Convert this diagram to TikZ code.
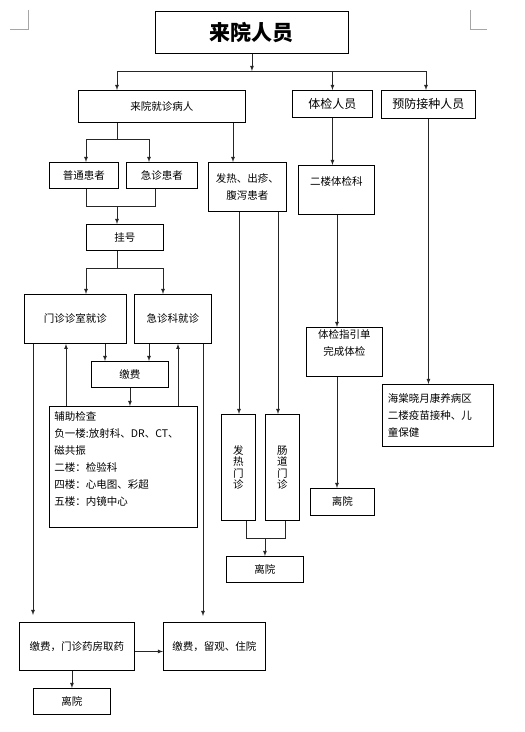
\documentclass[tikz,border=0pt]{standalone}
\usepackage{fontspec}
\newfontfamily\cn{Noto Sans CJK SC}
\usetikzlibrary{arrows}

\begin{document}
\begin{tikzpicture}[x=1pt, y=-1pt,
  box/.style={draw, line width=0.9pt, anchor=north west, inner sep=1pt, align=center,
    font=\cn\fontsize{10.5}{17}\selectfont},
  upright/.style={box, font=\cn\fontsize{10.5}{11.5}\selectfont},
  big/.style={box, font=\cn\fontsize{12}{17}\selectfont},
  link/.style={line width=0.75pt, black!85},
  flow/.style={link, -latex}]
  \useasboundingbox (0,0) rectangle (525,732);
  \draw[black!35, line width=0.6pt] (28,10) -- (28,29) -- (10,29);
  \draw[black!35, line width=0.6pt] (470,10) -- (470,29) -- (487,29);

  % boxes
  \node[box, minimum width=193pt, minimum height=42pt, font=\cn\fontsize{21}{25}\selectfont\bfseries]
    (title) at (155,11) {来院人员};
  \node[box, minimum width=167pt, minimum height=32pt] (visit) at (78,90) {来院就诊病人};
  \node[big, minimum width=80pt, minimum height=27pt] (exam) at (292,90) {体检人员};
  \node[big, minimum width=94pt, minimum height=28pt] (vacc) at (381,90) {预防接种人员};
  \node[box, minimum width=69pt, minimum height=26pt] (normal) at (49,162) {普通患者};
  \node[box, minimum width=71pt, minimum height=26pt] (emerg) at (126,162) {急诊患者};
  \node[box, minimum width=78pt, minimum height=49pt] (fever) at (208,162) {发热、出疹、\\腹泻患者};
  \node[box, minimum width=76pt, minimum height=49pt] (floor2) at (298,165) {二楼体检科\\ \mbox{}};
  \node[box, minimum width=77pt, minimum height=26pt] (reg) at (86,224) {挂号};
  \node[box, minimum width=102pt, minimum height=49pt] (clinic) at (24,294) {门诊诊室就诊};
  \node[box, minimum width=77pt, minimum height=49pt] (er) at (134,294) {急诊科就诊};
  \node[box, minimum width=77pt, minimum height=26pt] (pay) at (91,361) {缴费};
  \node[box, minimum width=148pt, minimum height=121pt, align=left, text width=138pt]
    (aux) at (49,406) {辅助检查\\负一楼:放射科、DR、CT、\\磁共振\\二楼：检验科\\四楼：心电图、彩超\\五楼：内镜中心\\ \mbox{}};
  \node[box, minimum width=76pt, minimum height=49pt] (guide) at (306,327) {体检指引单\\完成体检\\[2pt]};
  \node[box, minimum width=111pt, minimum height=62pt, align=left, text width=100pt]
    (ward) at (382,384) {海棠晓月康养病区\\二楼疫苗接种、儿\\童保健};
  \node[upright, minimum width=34pt, minimum height=106pt] (feverc) at (221,414) {发\\热\\门\\诊};
  \node[upright, minimum width=34pt, minimum height=106pt] (gut) at (265,414) {肠\\道\\门\\诊};
  \node[box, minimum width=64pt, minimum height=27pt] (leave2) at (310,488) {离院};
  \node[box, minimum width=77pt, minimum height=26pt] (leave1) at (226,556) {离院};
  \node[box, minimum width=115pt, minimum height=48pt] (drug) at (19,622) {缴费，门诊药房取药};
  \node[box, minimum width=102pt, minimum height=48pt] (stay) at (163,622) {缴费，留观、住院};
  \node[box, minimum width=77pt, minimum height=26pt] (leave3) at (33,688) {离院};

  % junctions
  \coordinate (b1) at (117,71);  \coordinate (b2) at (426,71);
  \coordinate (c1) at (86,139);  \coordinate (c2) at (149,139); \coordinate (c3) at (233,0);
  \coordinate (d1) at (86,206);  \coordinate (d2) at (155,206);
  \coordinate (e1) at (86,268);  \coordinate (e2) at (163,268);
  \coordinate (f1) at (105,0);   \coordinate (g1) at (66,0);    \coordinate (g2) at (178,0);
  \coordinate (h1) at (33,0);    \coordinate (h2) at (203,0);
  \coordinate (k1) at (239,0);   \coordinate (k2) at (278,0);
  \coordinate (m1) at (246,538); \coordinate (m2) at (285,538);
  \coordinate (n1) at (337,0);

  % connectors
  \draw[flow] (title) -- (title |- b1);
  \draw[link] (b1) -- (b2);
  \draw[flow] (b1) -- (b1 |- visit.north);
  \draw[flow] (exam |- b1) -- (exam);
  \draw[flow] (b2) -- (b2 |- vacc.north);

  \draw[link] (b1 |- visit.south) -- (b1 |- c1);
  \draw[link] (c1) -- (c2);
  \draw[flow] (c1) -- (c1 |- normal.north);
  \draw[flow] (c2) -- (c2 |- emerg.north);
  \draw[flow] (c3 |- visit.south) -- (c3 |- fever.north);

  \draw[link] (d1 |- normal.south) -- (d1) -- (d2) -- (d2 |- emerg.south);
  \draw[flow] (b1 |- d1) -- (b1 |- reg.north);

  \draw[link] (b1 |- reg.south) -- (b1 |- e1);
  \draw[link] (e1) -- (e2);
  \draw[flow] (e1) -- (e1 |- clinic.north);
  \draw[flow] (e2) -- (e2 |- er.north);

  \draw[flow] (f1 |- clinic.south) -- (f1 |- pay.north);
  \draw[flow] (c2 |- er.south) -- (c2 |- pay.north);
  \draw[flow] (pay) -- (pay |- aux.north);
  \draw[flow] (g1 |- aux.north) -- (g1 |- clinic.south);
  \draw[flow] (g2 |- aux.north) -- (g2 |- er.south);
  \draw[flow, shorten >=7pt] (h1 |- clinic.south) -- (h1 |- drug.north);
  \draw[flow, shorten >=6pt] (h2 |- er.south) -- (h2 |- stay.north);
  \draw[flow] ([yshift=-5pt]drug.east) -- ([yshift=-5pt]stay.west);
  \draw[flow] (leave3 |- drug.south) -- (leave3);

  \draw[flow] (k1 |- fever.south) -- (k1 |- feverc.north);
  \draw[flow] (k2 |- fever.south) -- (k2 |- gut.north);
  \draw[link] (m1 |- feverc.south) -- (m1) -- (m2) -- (m2 |- gut.south);
  \draw[flow] (leave1 |- m1) -- (leave1);

  \draw[flow] (exam) -- (exam |- floor2.north);
  \draw[flow] (n1 |- floor2.south) -- (n1 |- guide.north);
  \draw[flow] (n1 |- guide.south) -- (n1 |- leave2.north);
  \draw[flow] (vacc) -- (vacc |- ward.north);
\end{tikzpicture}
\end{document}
